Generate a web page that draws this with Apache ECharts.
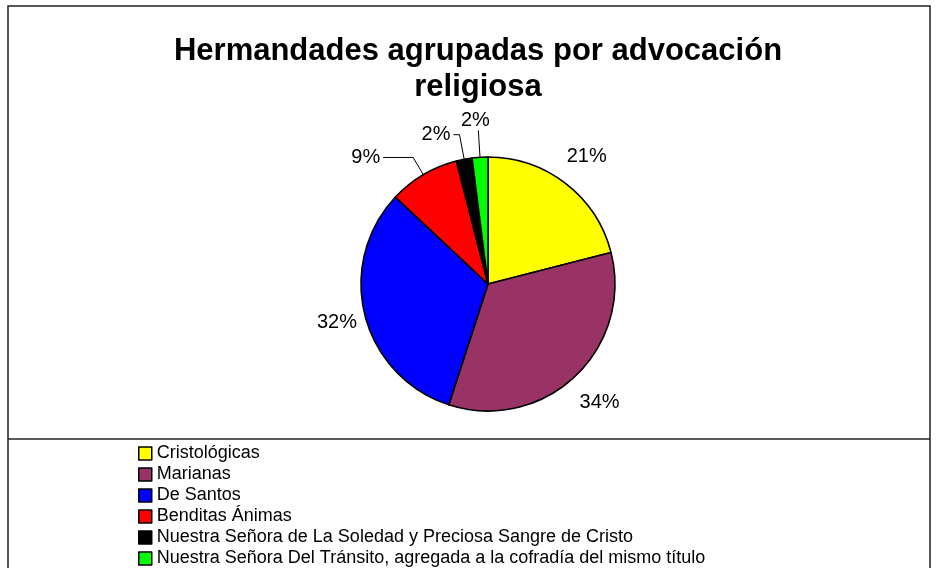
<!DOCTYPE html>
<html>
<head>
<meta charset="utf-8">
<script src="https://cdn.jsdelivr.net/npm/echarts@6/dist/echarts.min.js"></script>
<style>
html,body{margin:0;padding:0;background:#fff;}
#chart{width:937px;height:568px;}
</style>
</head>
<body>
<div id="chart"></div>
<script>
const titleText = 'Hermandades agrupadas por advocación\nreligiosa';
const categories = [
  'Cristológicas',
  'Marianas',
  'De Santos',
  'Benditas Ánimas',
  'Nuestra Señora de La Soledad y Preciosa Sangre de Cristo',
  'Nuestra Señora Del Tránsito, agregada a la cofradía del mismo título'
];
const values = [21, 34, 32, 9, 2, 2];
const colors = ['#FFFF00', '#993366', '#0000FF', '#FF0000', '#000000', '#00FF00'];

// label styling per slice
const leaderShow = [false, false, false, true, true, true];
const leaderLen = [34, 36, 29, 20, 25, 27];
const leaderLen2 = [0, 0, 0, 30, 6, 0];
const labelAlign = ['center', 'center', 'center', null, null, 'center'];
const labelVAlign = ['middle', 'middle', 'middle', null, null, 'bottom'];

const FONT = '"Liberation Sans", Arial, sans-serif';

const chart = echarts.init(document.getElementById('chart'), null, {renderer: 'canvas'});

const data = categories.map((c, i) => ({
  name: c,
  value: values[i],
  itemStyle: {color: colors[i]},
  label: {distanceToLabelLine: leaderShow[i] ? 3 : 0},
  labelLine: {show: leaderShow[i], length: leaderLen[i], length2: leaderLen2[i]}
}));

chart.setOption({
  animation: false,
  backgroundColor: '#ffffff',
  title: {
    text: titleText,
    left: 473,
    top: 28,
    textAlign: 'center',
    textStyle: {
      fontFamily: FONT,
      fontWeight: 'bold',
      fontSize: 31,
      lineHeight: 36,
      color: '#000'
    }
  },
  legend: {
    orient: 'vertical',
    left: 138,
    top: 443,
    height: 200,
    padding: 0,
    itemGap: 0,
    itemWidth: 13,
    itemHeight: 13,
    icon: 'rect',
    selectedMode: false,
    data: categories,
    itemStyle: {borderColor: '#000', borderWidth: 1.5},
    textStyle: {
      fontFamily: FONT,
      fontSize: 18,
      lineHeight: 21,
      color: '#000',
      padding: [0, 0, 0, 0]
    }
  },
  graphic: [
    {
      type: 'rect',
      silent: true,
      shape: {x: 8, y: 6, width: 922, height: 620},
      style: {fill: 'none', stroke: '#222', lineWidth: 1.5}
    },
    {
      type: 'line',
      silent: true,
      shape: {x1: 8, y1: 439, x2: 930, y2: 439},
      style: {stroke: '#222', lineWidth: 1.5}
    }
  ],
  series: [{
    type: 'pie',
    center: [488, 284],
    radius: 127,
    startAngle: 90,
    clockwise: true,
    avoidLabelOverlap: false,
    emphasis: {disabled: true},
    itemStyle: {borderColor: '#000', borderWidth: 1.6},
    label: {
      show: true,
      position: 'outside',
      formatter: '{d}%',
      fontFamily: FONT,
      fontSize: 20,
      color: '#000'
    },
    labelLine: {lineStyle: {color: '#000', width: 1}, smooth: false},
    labelLayout: function (params) {
      const i = params.dataIndex;
      const r = {};
      if (labelAlign[i]) r.align = labelAlign[i];
      if (labelVAlign[i]) r.verticalAlign = labelVAlign[i];
      return r;
    },
    data: data
  }]
});
</script>
</body>
</html>
